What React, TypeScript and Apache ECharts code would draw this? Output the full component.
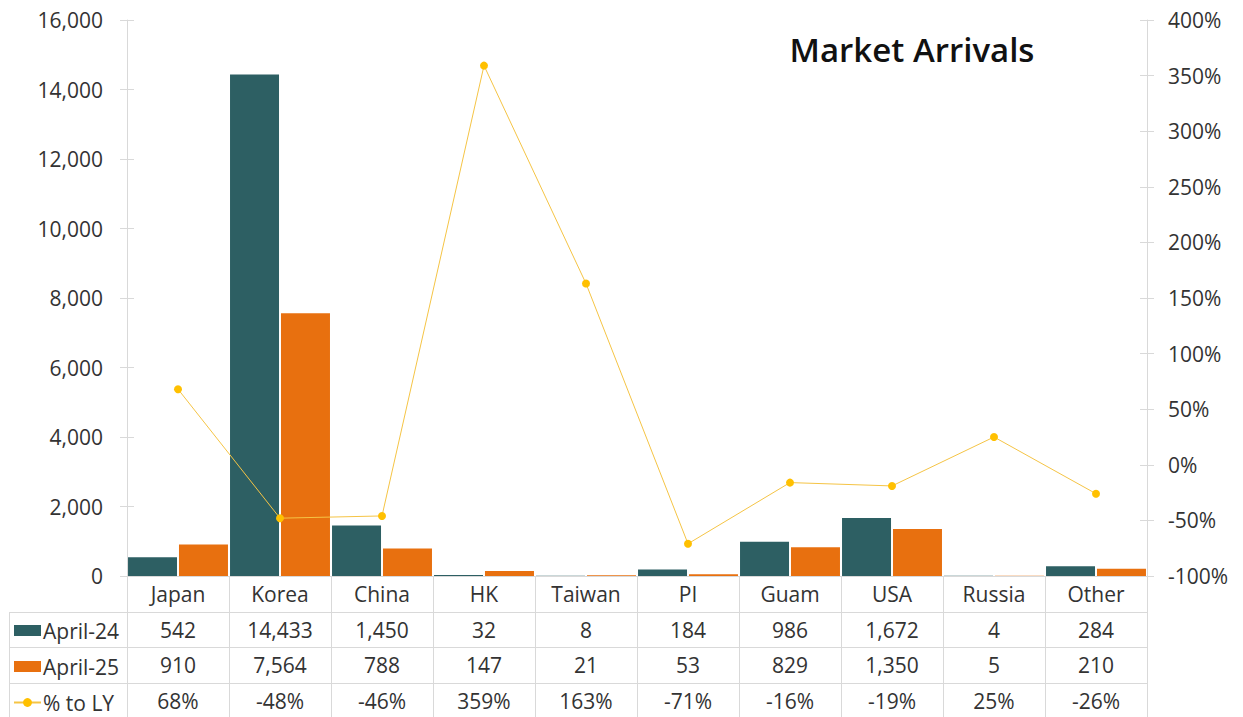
import React, { useEffect, useRef } from "react";
import * as echarts from "echarts";

const categories = ["Japan", "Korea", "China", "HK", "Taiwan", "PI", "Guam", "USA", "Russia", "Other"];
const april24 = [542, 14433, 1450, 32, 8, 184, 986, 1672, 4, 284];
const april25 = [910, 7564, 788, 147, 21, 53, 829, 1350, 5, 210];
const pctToLY = [68, -48, -46, 359, 163, -71, -16, -19, 25, -26];
const seriesNames = ["April-24", "April-25", "% to LY"];

const FONT = "Open Sans";
const TXT = "#333333";
const GRID_LINE = "#D9D9D9";
const TEAL = "#2D5F63";
const ORANGE = "#E8700F";
const GOLD = "#FFC000";

const fmt = (v: number) => v.toLocaleString("en-US");

export default function App() {
  const ref = useRef<HTMLDivElement>(null);
  useEffect(() => {
    if (!ref.current) return;
    const chart = echarts.init(ref.current, null, { renderer: "svg" });
    const gridTop = 20;
    const gridBottomY = 576;
    const gridLeft = 127;
    const gridRight = 1147;

    const tableAxis = (offset: number, tickLen: number, formatter: (v: string, i: number) => string) => ({
      type: "category",
      data: categories,
      position: "bottom",
      offset,
      axisLine: { show: true, onZero: false, lineStyle: { color: GRID_LINE, width: 1 } },
      axisTick: { show: true, length: tickLen, interval: 0, alignWithLabel: false, lineStyle: { color: GRID_LINE } },
      axisLabel: { show: true, interval: 0, margin: 7, fontSize: 21, fontFamily: FONT, color: TXT, formatter },
      splitLine: { show: false },
    });

    const hiddenY = (pos: string, min: number, max: number, interval: number) => ({
      type: "value",
      position: pos,
      min,
      max,
      interval,
      axisLine: { show: false, onZero: false },
      axisTick: { show: true, inside: true, length: 7, lineStyle: { color: GRID_LINE } },
      axisLabel: { show: false },
      splitLine: { show: false },
    });

    chart.setOption({
      animation: false,
      backgroundColor: "#ffffff",
      textStyle: { fontFamily: FONT },
      title: {
        text: "Market Arrivals",
        left: 907,
        top: 28,
        textAlign: "center",
        textStyle: { fontFamily: FONT, fontSize: 33, fontWeight: 600, color: "#111111" },
      },
      legend: {
        data: [
          { name: seriesNames[0], icon: "rect" },
          { name: seriesNames[1], icon: "rect" },
          { name: seriesNames[2] },
        ],
        orient: "vertical",
        left: 13,
        top: 620,
        padding: 0,
        itemGap: 15,
        itemWidth: 27,
        itemHeight: 11,
        textStyle: { fontSize: 21, fontFamily: FONT, color: TXT, lineHeight: 20, padding: [0, 0, 0, -3] },
      },
      grid: {
        left: gridLeft,
        right: 1243 - gridRight,
        top: gridTop,
        bottom: 717 - gridBottomY,
        containLabel: false,
      },
      xAxis: [
        tableAxis(0, 36, (v: string) => v),
        tableAxis(36, 35, (_v: string, i: number) => fmt(april24[i])),
        tableAxis(71, 36, (_v: string, i: number) => fmt(april25[i])),
        tableAxis(107, 35, (_v: string, i: number) => pctToLY[i] + "%"),
      ],
      yAxis: [
        {
          type: "value",
          position: "left",
          min: 0,
          max: 16000,
          interval: 2000,
          axisLine: { show: true, onZero: false, lineStyle: { color: GRID_LINE } },
          axisTick: { show: true, length: 7, lineStyle: { color: GRID_LINE } },
          axisLabel: { margin: 24, fontSize: 21, fontFamily: FONT, color: TXT, formatter: (v: number) => fmt(v) },
          splitLine: { show: false },
        },
        {
          type: "value",
          position: "right",
          min: -100,
          max: 400,
          interval: 50,
          axisLine: { show: true, onZero: false, lineStyle: { color: GRID_LINE } },
          axisTick: { show: true, length: 7, lineStyle: { color: GRID_LINE } },
          axisLabel: { margin: 21, fontSize: 21, fontFamily: FONT, color: TXT, formatter: (v: number) => v + "%" },
          splitLine: { show: false },
        },
        hiddenY("left", 0, 16000, 2000),
        hiddenY("right", -100, 400, 50),
      ],
      series: [
        {
          name: seriesNames[0],
          type: "bar",
          data: april24,
          itemStyle: { color: TEAL },
          barGap: "4%",
          barCategoryGap: "2%",
        },
        {
          name: seriesNames[1],
          type: "bar",
          data: april25,
          itemStyle: { color: ORANGE },
          barGap: "4%",
          barCategoryGap: "2%",
        },
        {
          name: seriesNames[2],
          type: "line",
          yAxisIndex: 1,
          data: pctToLY,
          symbol: "circle",
          symbolSize: 8,
          itemStyle: { color: GOLD },
          lineStyle: { color: "#F5C445", width: 1 },
          z: 5,
        },
      ],
      graphic: [
        { type: "line", shape: { x1: 9, y1: 612.5, x2: gridLeft, y2: 612.5 }, style: { stroke: GRID_LINE, lineWidth: 1 } },
        { type: "line", shape: { x1: 9, y1: 647.5, x2: gridLeft, y2: 647.5 }, style: { stroke: GRID_LINE, lineWidth: 1 } },
        { type: "line", shape: { x1: 9, y1: 683.5, x2: gridLeft, y2: 683.5 }, style: { stroke: GRID_LINE, lineWidth: 1 } },
        { type: "line", shape: { x1: 9.5, y1: 612, x2: 9.5, y2: 717 }, style: { stroke: GRID_LINE, lineWidth: 1 } },
      ],
    });
    return () => chart.dispose();
  }, []);
  return <div ref={ref} style={{ position: "absolute", left: 0, top: 0, width: 1243, height: 717 }} />;
}
